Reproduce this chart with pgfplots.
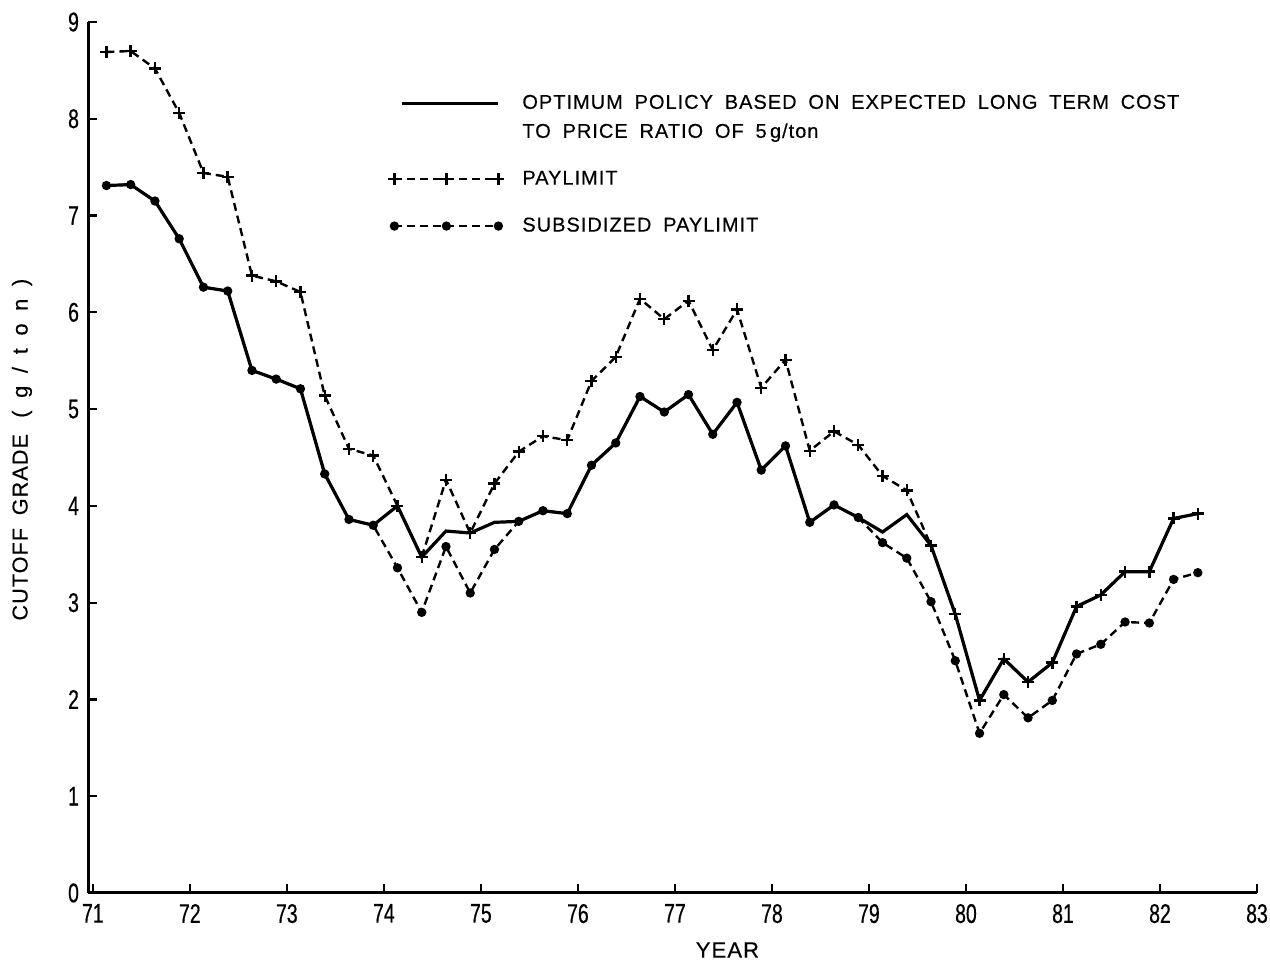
\documentclass[border=0pt]{standalone}
\usepackage{fontspec}
\setmainfont{Liberation Sans}
\newfontfamily\legfont[LetterSpace=5,WordSpace=1.8,FakeBold=0.4]{Liberation Sans}
\newfontfamily\tickfont[FakeStretch=0.72,FakeBold=0.5]{Liberation Sans}
\usepackage{pgfplots}
\usepackage{pgfplotstable}
\pgfplotsset{compat=1.18}
\pgfplotstableread{
x opt pay sub
71.14 7.31 8.69 7.31
71.39 7.32 8.70 7.32
71.64 7.15 8.52 7.15
71.89 6.76 8.06 6.76
72.14 6.26 7.44 6.26
72.39 6.22 7.40 6.22
72.64 5.40 6.38 5.40
72.89 5.31 6.32 5.31
73.14 5.21 6.21 5.21
73.39 4.33 5.14 4.33
73.64 3.86 4.59 3.86
73.89 3.80 4.52 3.80
74.14 4.00 4.00 3.36
74.39 3.47 3.47 2.90
74.64 3.74 4.27 3.58
74.89 3.72 3.72 3.10
75.14 3.83 4.23 3.55
75.39 3.84 4.56 3.84
75.64 3.95 4.72 3.95
75.89 3.92 4.68 3.92
76.14 4.42 5.29 4.42
76.39 4.65 5.54 4.65
76.64 5.13 6.14 5.13
76.89 4.97 5.93 4.97
77.14 5.15 6.12 5.15
77.39 4.74 5.61 4.74
77.64 5.07 6.03 5.07
77.89 4.37 5.22 4.37
78.14 4.62 5.51 4.62
78.39 3.83 4.57 3.83
78.64 4.01 4.77 4.01
78.89 3.88 4.63 3.88
79.14 3.73 4.31 3.62
79.39 3.91 4.16 3.46
79.64 3.59 3.59 3.01
79.89 2.88 2.88 2.40
80.14 1.99 1.99 1.65
80.39 2.42 2.42 2.05
80.64 2.18 2.18 1.81
80.89 2.38 2.38 1.99
81.14 2.96 2.96 2.47
81.39 3.08 3.08 2.57
81.64 3.32 3.32 2.80
81.89 3.32 3.32 2.79
82.14 3.87 3.87 3.24
82.39 3.92 3.92 3.31
}\data
\begin{document}
\begin{tikzpicture}
\begin{axis}[
  name=ax,
  scale only axis,
  width=584.5pt, height=435.5pt,
  xmin=70.95, xmax=83, ymin=0, ymax=9,
  axis lines=left,
  axis line style={-, line width=1.5pt},
  xtick={71,...,83}, ytick={0,...,9},
  tick style={black, line width=1.1pt},
  major tick length=4.5pt,
  tick align=inside,
  /pgf/number format/assume math mode=true,
  ticklabel style={font=\tickfont\fontsize{13.5}{15}\selectfont},
  xticklabel style={yshift=-2pt},
  yticklabel style={xshift=-1pt},
  xlabel={\legfont YEAR},
  ylabel={\legfont CUTOFF GRADE \,( g / t o n )},
  xlabel style={at={(axis description cs:0.547,0)}, anchor=center, yshift=-28.5pt, font=\fontsize{11}{12}\selectfont},
  ylabel style={at={(axis description cs:-0.0565,0.509)}, anchor=center, font=\fontsize{10.8}{12}\selectfont},
  legend style={draw=none, fill=none, at={(axis description cs:0.2515,0.926)}, anchor=north west,
    font=\legfont\fontsize{10}{14.5}\selectfont, row sep=11pt, column sep=7pt,
    cells={anchor=west, align=left}},
  legend image code/.code={\draw[#1] plot coordinates {(0pt,0pt) (26pt,0pt) (52pt,0pt)};},
]
\addplot[black, line width=1.6pt, mark=none,
  legend image code/.code={\draw[black, line width=1.3pt] (4pt,7.25pt) -- (52pt,7.25pt);}]
  table[x=x, y=opt] {\data};
\addlegendentry{OPTIMUM POLICY BASED ON EXPECTED LONG TERM COST\\TO PRICE RATIO OF 5\,g/ton}
\addplot[black, line width=1.2pt, dash pattern=on 4pt off 2.5pt, mark=+, mark size=3pt,
  mark options={solid, line width=1.2pt}]
  table[x=x, y=pay] {\data};
\addlegendentry{PAYLIMIT}
\addplot[black, line width=1.2pt, dash pattern=on 4pt off 2.5pt, mark=*, mark size=1.7pt,
  mark options={solid}]
  table[x=x, y=sub] {\data};
\addlegendentry{SUBSIDIZED PAYLIMIT}
\end{axis}
\pgfresetboundingbox
\path ([xshift=-44pt,yshift=-35.5pt]ax.south west) rectangle ([xshift=6.5pt,yshift=11pt]ax.north east);
\end{tikzpicture}
\end{document}
